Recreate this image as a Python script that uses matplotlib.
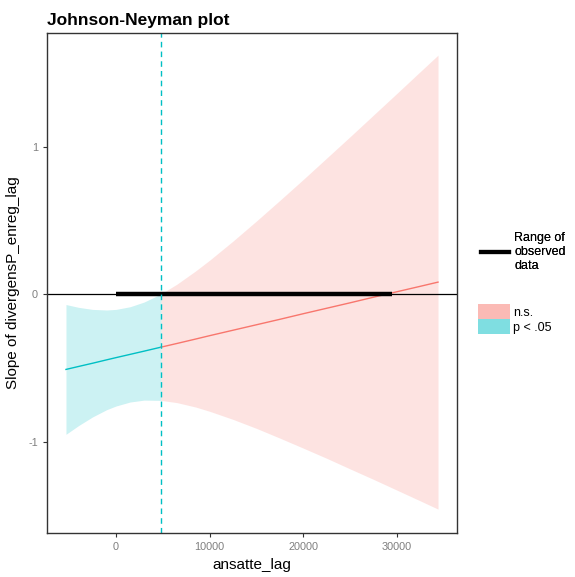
import matplotlib.pyplot as plt
from matplotlib.lines import Line2D
from matplotlib.patches import Patch

plt.rcParams['font.family'] = ['Liberation Sans', 'DejaVu Sans']

# moderator values and conditional slope with its 95% band
ansatte_lag = [-5340, -4000, -2500, -1000, 0, 1500, 3000, 4803,
               6500, 8500, 10000, 12500, 15000, 17500, 20000,
               22500, 25000, 27500, 30000, 32500, 34365]
slope = [-0.511, -0.491, -0.469, -0.446, -0.431, -0.409, -0.387, -0.360,
         -0.335, -0.305, -0.282, -0.245, -0.208, -0.171, -0.133,
         -0.096, -0.059, -0.021, 0.016, 0.053, 0.081]
ci_lower = [-0.951, -0.892, -0.833, -0.784, -0.759, -0.732, -0.719, -0.721,
            -0.736, -0.766, -0.795, -0.850, -0.911, -0.977, -1.045,
            -1.114, -1.186, -1.257, -1.330, -1.403, -1.458]
ci_upper = [-0.071, -0.090, -0.104, -0.108, -0.104, -0.086, -0.054, 0.001,
            0.067, 0.157, 0.230, 0.360, 0.496, 0.636, 0.778,
            0.923, 1.068, 1.215, 1.362, 1.510, 1.620]

jn_point = 4803
observed_range = [0, 29450]

sig_col = '#00BFC4'
ns_col = '#F8766D'

fig = plt.figure(figsize=(5.75, 5.77), dpi=100)
ax = fig.add_axes([47 / 575, 1 - 533 / 577, 410 / 575, 500 / 577])

# split at the Johnson-Neyman point
k = ansatte_lag.index(jn_point)
sig = slice(0, k + 1)
ns = slice(k, len(ansatte_lag))

ax.fill_between(ansatte_lag[sig], ci_lower[sig], ci_upper[sig],
                color=sig_col, alpha=0.2, linewidth=0)
ax.fill_between(ansatte_lag[ns], ci_lower[ns], ci_upper[ns],
                color=ns_col, alpha=0.2, linewidth=0)
ax.plot(ansatte_lag[sig], slope[sig], color=sig_col, lw=1)
ax.plot(ansatte_lag[ns], slope[ns], color=ns_col, lw=1)

ax.axhline(0, color='black', lw=0.9)
ax.plot(observed_range, [0, 0], color='black', lw=3.2, solid_capstyle='butt')
ax.axvline(jn_point, color=sig_col, lw=1, ls=(0, (4, 3)))

ax.set_xlim(-7364, 36390)
ax.set_ylim(-1.62, 1.77)
ax.set_xticks([0, 10000, 20000, 30000])
ax.set_yticks([-1, 0, 1])
ax.set_yticklabels(['-1', '0', '1'])
ax.tick_params(length=3, width=0.8, colors='#333333', labelsize=7.8,
               labelcolor='#7F7F7F')
for s in ax.spines.values():
    s.set_color('#333333')
    s.set_linewidth(1)

ax.set_xlabel('ansatte_lag', fontsize=11, labelpad=4)
ax.set_ylabel('Slope of divergensP_enreg_lag', fontsize=11, labelpad=6)
ax.set_title('Johnson-Neyman plot', loc='left', fontsize=12.5,
             fontweight='bold', pad=6)

# legends on the right
leg1 = fig.legend(handles=[Line2D([], [], color='black', lw=3)],
                  labels=['Range of\nobserved\ndata'],
                  loc='center left', bbox_to_anchor=(475 / 575, 1 - 252 / 577),
                  frameon=False, fontsize=9, handlelength=2.2,
                  handletextpad=0.45, borderpad=0)
fig.legend(handles=[Patch(color=ns_col, alpha=0.5, lw=0),
                    Patch(color=sig_col, alpha=0.5, lw=0)],
           labels=['n.s.', 'p < .05'],
           loc='center left', bbox_to_anchor=(472 / 575, 1 - 319 / 577),
           frameon=False, fontsize=9, handlelength=2.5, handleheight=1.45,
           handletextpad=0.3, labelspacing=0.02, borderpad=0)
fig.add_artist(leg1)

fig.savefig('out.png', dpi=100)
